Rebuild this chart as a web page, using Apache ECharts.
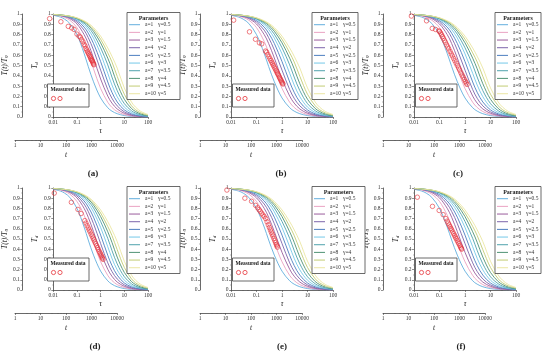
<!DOCTYPE html>
<html><head><meta charset="utf-8">
<script src="https://cdn.jsdelivr.net/npm/echarts@6/dist/echarts.min.js"></script>
<style>html,body{margin:0;padding:0;background:#fff}#c{width:550px;height:354px}</style>
</head><body><div id="c"></div>
<script>
// ---- theory curves (same in every panel), sampled at tauGrid ----
const tauGrid = [0.01,0.02,0.03,0.05,0.1,0.2,0.3,0.5,1,2,3,5,10,20,30,50,100];
const curve_a1  = [0.988,0.970,0.950,0.908,0.800,0.618,0.490,0.342,0.185,0.090,0.057,0.032,0.014,0.006,0.004,0.002,0.001];
const curve_a2  = [0.991,0.980,0.967,0.940,0.868,0.734,0.624,0.468,0.277,0.143,0.093,0.053,0.024,0.010,0.006,0.0035,0.0015];
const curve_a3  = [0.993,0.985,0.975,0.955,0.903,0.801,0.713,0.573,0.369,0.203,0.135,0.078,0.036,0.016,0.010,0.005,0.002];
const curve_a4  = [0.994,0.987,0.979,0.963,0.922,0.843,0.770,0.651,0.455,0.266,0.182,0.108,0.050,0.022,0.014,0.008,0.003];
const curve_a5  = [0.995,0.989,0.982,0.969,0.936,0.873,0.814,0.714,0.538,0.340,0.240,0.146,0.069,0.031,0.020,0.011,0.005];
const curve_a6  = [0.995,0.990,0.984,0.974,0.947,0.896,0.849,0.766,0.613,0.424,0.311,0.197,0.096,0.044,0.028,0.015,0.007];
const curve_a7  = [0.995,0.990,0.986,0.976,0.953,0.911,0.872,0.804,0.672,0.506,0.388,0.256,0.130,0.061,0.038,0.021,0.009];
const curve_a8  = [0.995,0.991,0.986,0.978,0.958,0.922,0.890,0.832,0.720,0.571,0.468,0.323,0.172,0.083,0.053,0.029,0.013];
const curve_a9  = [0.995,0.991,0.986,0.979,0.961,0.929,0.901,0.852,0.755,0.623,0.535,0.395,0.221,0.110,0.070,0.040,0.018];
const curve_a10 = [0.995,0.990,0.986,0.979,0.963,0.935,0.911,0.868,0.785,0.670,0.590,0.475,0.282,0.146,0.095,0.054,0.024];

const aLabels = ['a=1','a=2','a=3','a=4','a=5','a=6','a=7','a=8','a=9','a=10'];
const gammaLabels = ['γ=0.5','γ=1','γ=1.5','γ=2','γ=2.5','γ=3','γ=3.5','γ=4','γ=4.5','γ=5'];
const curveColors = ['#62aede','#eaa2c2','#9a5c9c','#7c64aa','#4c7ec0','#74c8e8','#4ea2ac','#4e9274','#c2cc74','#ebe6a2'];

// ---- measured data per panel ----
const tauA = [0.007,0.021,0.043,0.06,0.076,0.1,0.122,0.14,0.16,0.18,0.2,0.22,0.24,0.26,0.28,0.3,0.32,0.34,0.36,0.38,0.4,0.42,0.44,0.46,0.48,0.5,0.52];
const tdA  = [0.955,0.925,0.88,0.865,0.85,0.805,0.785,0.775,0.75,0.73,0.705,0.69,0.665,0.65,0.635,0.62,0.61,0.595,0.585,0.57,0.56,0.55,0.545,0.535,0.525,0.515,0.507];
const tauB = [0.0127,0.053,0.091,0.13,0.16,0.226,0.25,0.28,0.31,0.34,0.37,0.4,0.43,0.46,0.5,0.54,0.58,0.62,0.66,0.7,0.75,0.8,0.85,0.9,0.95,1.0,1.05,1.09];
const tdB  = [0.94,0.827,0.755,0.72,0.71,0.64,0.63,0.606,0.585,0.565,0.548,0.531,0.516,0.501,0.484,0.468,0.453,0.439,0.425,0.413,0.399,0.385,0.372,0.36,0.349,0.338,0.328,0.32];
const tauC = [0.0079,0.031,0.052,0.07,0.095,0.1,0.11,0.12,0.13,0.14,0.155,0.17,0.19,0.21,0.23,0.26,0.29,0.32,0.36,0.4,0.45,0.5,0.56,0.62,0.7,0.78,0.86,0.95,1.05,1.12,1.21];
const tdC  = [0.98,0.934,0.86,0.85,0.836,0.83,0.815,0.797,0.78,0.765,0.744,0.725,0.701,0.68,0.661,0.636,0.613,0.593,0.568,0.546,0.522,0.499,0.476,0.455,0.429,0.407,0.387,0.365,0.345,0.331,0.316];
const tauD = [0.011,0.058,0.11,0.15,0.215,0.24,0.27,0.3,0.33,0.36,0.4,0.44,0.48,0.52,0.57,0.62,0.68,0.74,0.8,0.87,0.94,1.0,1.07,1.14,1.2,1.27];
const tdD  = [0.95,0.86,0.79,0.75,0.68,0.656,0.631,0.609,0.588,0.57,0.547,0.527,0.508,0.491,0.471,0.453,0.434,0.415,0.399,0.38,0.364,0.351,0.336,0.323,0.312,0.30];
const tauE = [0.0069,0.035,0.064,0.092,0.11,0.125,0.14,0.16,0.18,0.2,0.23,0.26,0.29,0.32,0.35,0.38,0.41,0.44,0.48,0.52,0.56,0.6,0.63,0.66];
const tdE  = [0.98,0.90,0.87,0.83,0.806,0.788,0.772,0.753,0.735,0.72,0.70,0.668,0.639,0.613,0.589,0.567,0.547,0.528,0.505,0.484,0.464,0.446,0.433,0.42];
const tauF = [0.0135,0.053,0.097,0.139,0.178,0.2,0.22,0.24,0.26,0.28,0.3,0.33,0.36,0.39,0.42,0.45,0.49,0.53,0.57,0.62,0.67,0.71,0.74];
const tdF  = [0.91,0.82,0.78,0.739,0.70,0.675,0.655,0.637,0.62,0.604,0.59,0.57,0.552,0.535,0.519,0.505,0.487,0.47,0.455,0.437,0.421,0.409,0.40];

const panelLabels = ['(a)','(b)','(c)','(d)','(e)','(f)'];

// ---- build ----
const curves = [curve_a1,curve_a2,curve_a3,curve_a4,curve_a5,curve_a6,curve_a7,curve_a8,curve_a9,curve_a10];
const measured = [[tauA,tdA],[tauB,tdB],[tauC,tdC],[tauD,tdD],[tauE,tdE],[tauF,tdF]];

const FONT = 'Liberation Serif';
const AX = '#444';
const plotLeft = [46, 231, 414], plotTop = [14, 188], plotH = [103, 102], plotW = 102;
const legendW = [53, 46, 46, 53, 53, 46];
const labelX = [93, 281, 458, 95, 282, 461], labelY = [174, 347];
const fmtNum = v => String(Number((+v).toPrecision(6)));

const grids = [], xAxes = [], yAxes = [], series = [], legends = [], graphics = [];
const lab = {fontFamily: FONT, fontSize: 5.5, color: '#333'};

for (let i = 0; i < 6; i++) {
  const c = i % 3, r = Math.floor(i / 3);
  const L = plotLeft[c], T = plotTop[r], H = plotH[r];
  const g0 = grids.length;
  grids.push({left: L, top: T, width: plotW, height: H});
  grids.push({left: L - 31, top: T + H + 22, width: plotW, height: 1});
  const xi = xAxes.length, yi = yAxes.length;
  xAxes.push({gridIndex: g0, type: 'log', logBase: 10, min: 0.01, max: 100,
    axisLine: {lineStyle: {color: AX, width: 0.8}},
    axisTick: {length: 2, lineStyle: {color: AX, width: 0.6}},
    minorTick: {show: true, splitNumber: 5, length: 1, lineStyle: {color: AX, width: 0.4}},
    axisLabel: Object.assign({margin: 3, formatter: fmtNum}, lab),
    splitLine: {show: false},
    name: 'τ', nameLocation: 'middle', nameGap: 10,
    nameTextStyle: {fontFamily: FONT, fontStyle: 'italic', fontSize: 7.5, color: '#222'}});
  xAxes.push({gridIndex: g0 + 1, type: 'log', logBase: 10, min: 1, max: 10000,
    axisLine: {lineStyle: {color: AX, width: 0.8}},
    axisTick: {length: 2, lineStyle: {color: AX, width: 0.6}},
    minorTick: {show: true, splitNumber: 5, length: 1, lineStyle: {color: AX, width: 0.4}},
    axisLabel: Object.assign({margin: 3, formatter: fmtNum}, lab),
    splitLine: {show: false},
    name: 't', nameLocation: 'middle', nameGap: 11,
    nameTextStyle: {fontFamily: FONT, fontStyle: 'italic', fontSize: 7.5, color: '#222'}});
  yAxes.push({gridIndex: g0, type: 'value', min: 0, max: 1, interval: 0.1, position: 'left',
    axisLine: {show: true, lineStyle: {color: AX, width: 0.8}},
    axisTick: {show: true, length: 2, lineStyle: {color: AX, width: 0.6}},
    minorTick: {show: true, splitNumber: 2, length: 1, lineStyle: {color: AX, width: 0.4}},
    axisLabel: Object.assign({margin: 2.5, formatter: fmtNum}, lab),
    splitLine: {show: false},
    name: '{t|T}{s|d}', nameLocation: 'middle', nameGap: 3, nameRotate: 90,
    nameTextStyle: {backgroundColor: '#fff', padding: [1, 2],
      rich: {t: {fontFamily: FONT, fontStyle: 'italic', fontSize: 7.5, color: '#222'},
             s: {fontFamily: FONT, fontStyle: 'italic', fontSize: 5, color: '#222', verticalAlign: 'bottom'}}}});
  yAxes.push({gridIndex: g0, type: 'value', min: 0, max: 1, interval: 0.1, position: 'left', offset: 31,
    axisLine: {show: true, lineStyle: {color: AX, width: 0.8}},
    axisTick: {show: true, length: 2, lineStyle: {color: AX, width: 0.6}},
    minorTick: {show: true, splitNumber: 2, length: 1, lineStyle: {color: AX, width: 0.4}},
    axisLabel: Object.assign({margin: 2.5, formatter: fmtNum}, lab),
    splitLine: {show: false},
    name: '{t|T(t)/T}{s|0}', nameLocation: 'middle', nameGap: 10, nameRotate: 90,
    nameTextStyle: {rich: {t: {fontFamily: FONT, fontStyle: 'italic', fontSize: 7.5, color: '#222'},
             s: {fontFamily: FONT, fontStyle: 'italic', fontSize: 5, color: '#222', verticalAlign: 'bottom'}}}});
  yAxes.push({gridIndex: g0 + 1, type: 'value', min: 0, max: 1, show: false});

  for (let k = 0; k < 10; k++) {
    series.push({type: 'line', name: aLabels[k], xAxisIndex: xi, yAxisIndex: yi,
      data: tauGrid.map((t, j) => [t, curves[k][j]]),
      symbol: 'none', smooth: 0.35, silent: true,
      lineStyle: {color: curveColors[k], width: 0.9}, itemStyle: {color: curveColors[k]}});
  }
  const [mt, md] = measured[i];
  series.push({type: 'scatter', name: 'Measured data', xAxisIndex: xi, yAxisIndex: yi,
    data: mt.map((t, j) => [t, md[j]]), symbol: 'circle', symbolSize: 4.5, clip: false, z: 5,
    itemStyle: {color: 'rgba(255,255,255,0)', borderColor: '#e6333a', borderWidth: 0.8}});

  legends.push({left: L + 83, top: T + 7.7, orient: 'vertical', icon: 'rect', itemWidth: 11, itemHeight: 1, itemGap: 1.67,
    padding: 0, selectedMode: false, z: 20, data: aLabels,
    formatter: name => `{a|${name}}{g|${gammaLabels[aLabels.indexOf(name)]}}`,
    textStyle: {fontFamily: FONT, fontSize: 5.5, color: '#333', lineHeight: 6,
      rich: {a: {width: 13, fontFamily: FONT, fontSize: 5.5, lineHeight: 6, color: '#333'},
             g: {fontFamily: FONT, fontSize: 5.5, lineHeight: 6, color: '#333'}}}});

  graphics.push({type: 'rect', z: 10, shape: {x: L + 81, y: T - 1.5, width: legendW[i], height: 87},
    style: {fill: '#fff', stroke: '#444', lineWidth: 0.8}});
  graphics.push({type: 'text', z: 21, x: L + 81 + legendW[i] / 2, y: T + 4.5,
    style: {text: 'Parameters', fontFamily: FONT, fontWeight: 'bold', fontSize: 6, fill: '#222', align: 'center', verticalAlign: 'middle'}});
  graphics.push({type: 'rect', z: 10, shape: {x: L + 1.5, y: T + 70, width: 41.5, height: 23},
    style: {fill: '#fff', stroke: '#444', lineWidth: 0.8}});
  graphics.push({type: 'text', z: 21, x: L + 22, y: T + 75.5,
    style: {text: 'Measured data', fontFamily: FONT, fontWeight: 'bold', fontSize: 5.5, fill: '#222', align: 'center', verticalAlign: 'middle'}});
  graphics.push({type: 'circle', z: 21, shape: {cx: L + 7.5, cy: T + 84.5, r: 2.1},
    style: {fill: 'none', stroke: '#e6333a', lineWidth: 0.8}});
  graphics.push({type: 'circle', z: 21, shape: {cx: L + 14, cy: T + 84.5, r: 2.1},
    style: {fill: 'none', stroke: '#e6333a', lineWidth: 0.8}});
  graphics.push({type: 'text', z: 21, x: labelX[i], y: labelY[r],
    style: {text: panelLabels[i], fontFamily: FONT, fontWeight: 'bold', fontSize: 9, fill: '#222', align: 'center', verticalAlign: 'middle'}});
}

const chart = echarts.init(document.getElementById('c'), null, {renderer: 'canvas'});
chart.setOption({
  animation: false,
  backgroundColor: '#fff',
  grid: grids, xAxis: xAxes, yAxis: yAxes, series: series, legend: legends,
  graphic: {elements: graphics}
});
</script></body></html>
